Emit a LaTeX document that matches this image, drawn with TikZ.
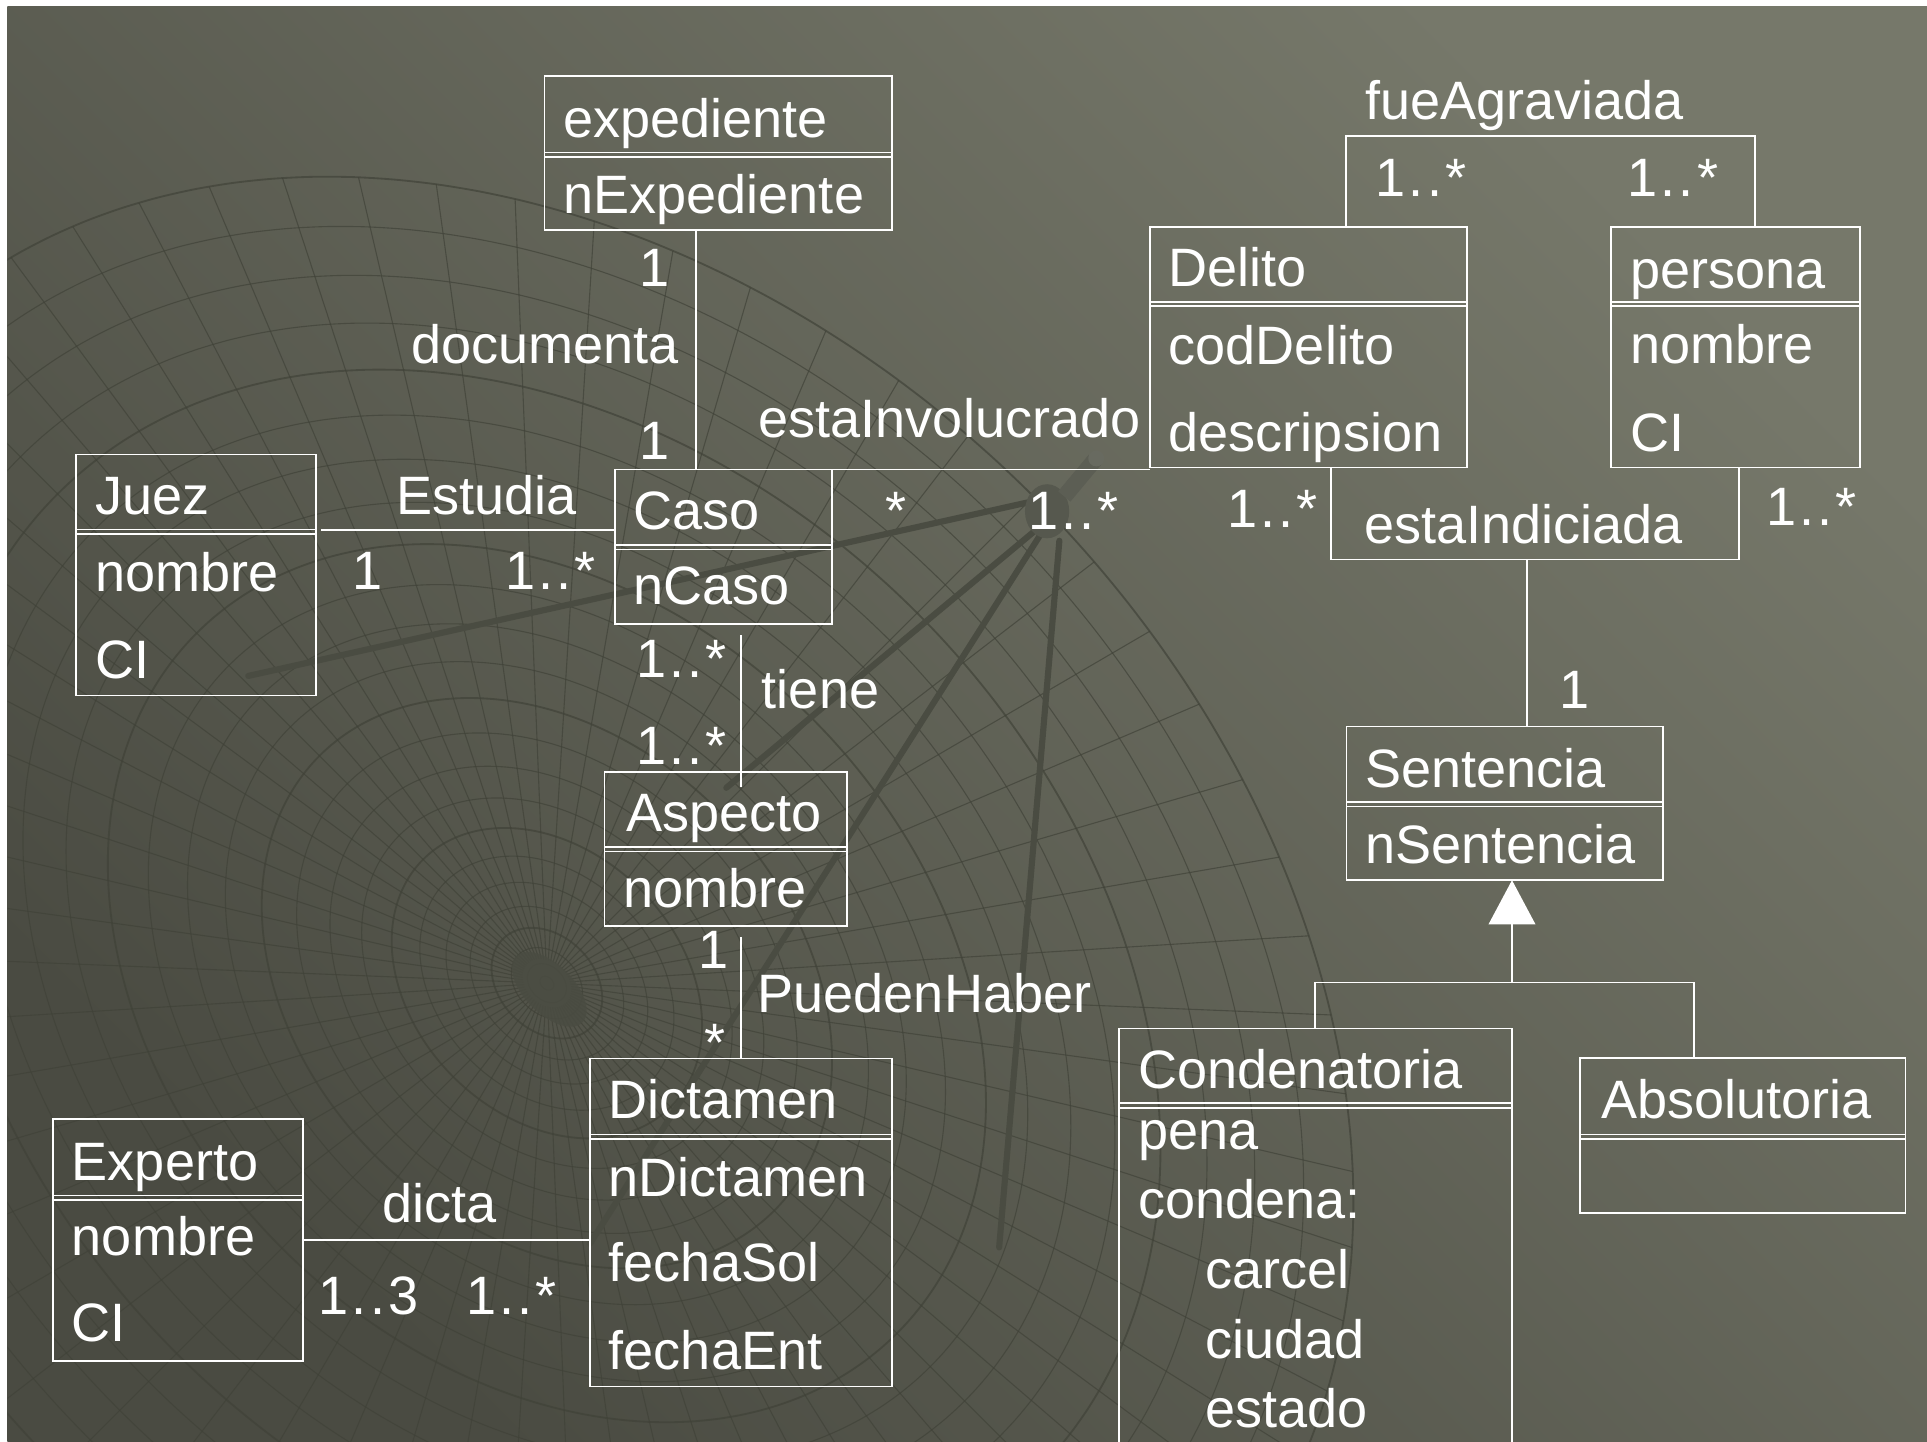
\documentclass[tikz,border=0pt]{standalone}
\usepackage{fontspec}
\setmainfont{Liberation Sans}
\usetikzlibrary{arrows.meta,calc}

\definecolor{bgLight}{RGB}{118,120,106}
\definecolor{bgMid}{RGB}{99,101,89}
\definecolor{bgDark}{RGB}{74,75,66}
\definecolor{meshcol}{RGB}{64,66,56}
\definecolor{legcol}{RGB}{74,76,66}
\definecolor{capcol}{RGB}{86,88,78}
\definecolor{tubecol}{RGB}{92,94,84}
\definecolor{tubetop}{RGB}{104,106,96}

\tikzset{
  uml/.style={draw=white, line width=1.3pt},
  clsbox/.style={uml, rectangle, inner sep=0pt, outer sep=0pt, anchor=north west},
  txt/.style={text=white, inner sep=0pt, outer sep=0pt, anchor=base west, yshift=-2.5pt,
              font=\fontsize{44pt}{52pt}\selectfont},
  mesh/.style={draw=meshcol, opacity=0.68, line width=0.9pt},
  leg/.style={draw=legcol, line width=5pt, line cap=round},
}

% multiplicity text with the wide dot spacing of the labels
\newcommand{\mlt}[1]{1\kern2.5pt.\kern2.5pt.\kern2.5pt#1}

% class box: name, left, top, right, bottom, y of the header divider
\newcommand{\umlbox}[6]{%
  \node[clsbox, minimum width={(#4)-(#2)}, minimum height={(#5)-(#3)}] (#1) at (#2,#3) {};
  \draw[uml] (#2,#6) -- (#4,#6);
  \draw[uml] (#2,{#6+3.7}) -- (#4,{#6+3.7});
}

\begin{document}
\begin{tikzpicture}[x=1pt,y=-1pt]
\useasboundingbox (0,0) rectangle (1568,1173);
\fill[white] (0,0) rectangle (1568,1173);
\shade[top color=bgLight, middle color=bgMid, bottom color=bgDark, shading angle=-45]
  (6,5) rectangle (1568,1173);

% ---- background globe mesh and tripod ----
\begin{scope}
\clip (6,5) rectangle (1568,1173);
\foreach \k in {1,...,24}{
  \pgfmathsetmacro\rr{(\k/24)^1.5}
  \pgfmathsetmacro\mw{(mod(\k,4)==0) ? 1.5 : 0.9}
  \draw[mesh, line width=\mw pt] plot[smooth cycle, variable=\a, domain=0:357, samples=120]
    ({445+\rr*(523.3*cos(\a)+396*sin(\a))},{800+\rr*(523.3*cos(\a)-396*sin(\a))});
}
\foreach \a in {0,5.625,...,354.375}{
  \draw[mesh] ({445+0.03*(523.3*cos(\a)+396*sin(\a))},{800+0.03*(523.3*cos(\a)-396*sin(\a))})
    -- ({445+523.3*cos(\a)+396*sin(\a)},{800+523.3*cos(\a)-396*sin(\a)});
}
\fill[legcol, opacity=0.85] plot[smooth cycle, variable=\a, domain=0:350, samples=36]
  ({447+26.9*cos(\a)+14.1*sin(\a)},{805+26.9*cos(\a)-14.1*sin(\a)});

\draw[leg] (840,408) -- (202,550);
\draw[leg] (842,432) -- (591,641);
\draw[leg] (846,436) -- (480,1012);
\draw[leg] (862,440) -- (813,1015);
\fill[capcol] (852,416) ellipse [x radius=18, y radius=22];
\draw[tubecol, line width=13pt] (866,404) -- (891,374);
\fill[tubetop] (892,373) circle (6.5);
\end{scope}

% ---- classes ----
\umlbox{exp}{443}{62}{726}{187}{124}
\umlbox{delito}{935.5}{184.5}{1193.5}{380.5}{245.5}
\umlbox{persona}{1311}{184.5}{1513.5}{380.5}{245.5}
\umlbox{juez}{62}{369.7}{257}{566}{430.7}
\umlbox{caso}{500.2}{381.9}{677}{507.7}{443.5}
\umlbox{asp}{491.8}{628}{689}{753.5}{689}
\umlbox{sent}{1095.5}{591}{1353.4}{716.2}{652.5}
\umlbox{cond}{910.5}{837}{1230.3}{1195}{897.7}
\umlbox{abs}{1285.6}{861}{1550.4}{987}{923.2}
\umlbox{dic}{479.9}{861.2}{725.7}{1128.3}{923}
\umlbox{expt}{43}{910.7}{246.6}{1107.4}{972.6}

\node[txt] (expN) at (458.5,109) {expediente};
\node[txt] (expA) at (458.5,171) {nExpediente};
\node[txt] (delN) at (951,231) {Delito};
\node[txt] (delA) at (951,294.3) {codDelito};
\node[txt] (delB) at (951,364.7) {descripsion};
\node[txt] (perN) at (1326.5,232) {persona};
\node[txt] (perA) at (1326.5,293) {nombre};
\node[txt] (perB) at (1326.5,364.5) {CI};
\node[txt] (juezN) at (77.5,416.4) {Juez};
\node[txt] (juezA) at (77.5,478.7) {nombre};
\node[txt] (juezB) at (77.5,549.3) {CI};
\node[txt] (casoN) at (515.7,428.5) {Caso};
\node[txt] (casoA) at (515.7,489.6) {nCaso};
\node[txt] (aspN) at (509.5,673.9) {Aspecto};
\node[txt] (aspA) at (507.3,735.8) {nombre};
\node[txt] (sentN) at (1111,638) {Sentencia};
\node[txt] (sentA) at (1111,700) {nSentencia};
\node[txt] (condN) at (926,883.3) {Condenatoria};
\node[txt] (condA) at (926,933) {pena};
\node[txt] (condB) at (926,989.2) {condena:};
\node[txt] (condC) at (981,1046) {carcel};
\node[txt] (condD) at (981,1102.6) {ciudad};
\node[txt] (condE) at (981,1159.4) {estado};
\node[txt] (absN) at (1303,907.8) {Absolutoria};
\node[txt] (dicN) at (495.4,908) {Dictamen};
\node[txt] (dicA) at (495.4,971) {nDictamen};
\node[txt] (dicB) at (495.4,1040) {fechaSol};
\node[txt] (dicC) at (495.4,1111.6) {fechaEnt};
\node[txt] (exptN) at (58.5,958.2) {Experto};
\node[txt] (exptA) at (58.5,1019) {nombre};
\node[txt] (exptB) at (58.5,1089) {CI};

% ---- associations ----
\coordinate (docX) at (566.3,0);
\draw[uml] (exp.south -| docX) -- (caso.north -| docX);

\coordinate (estY) at (0,431.3);
\draw[uml] ($(juez.east |- estY)+(4.5,0)$) -- (caso.west |- estY);

\draw[uml] (caso.north east) -- (caso.north east -| delito.west);

\coordinate (faL) at (1095,110.6);
\coordinate (faR) at (1428,110.6);
\draw[uml] (delito.north -| faL) -- (faL) -- (faR) -- (persona.north -| faR);

\coordinate (eiL) at (1083,455.3);
\coordinate (eiR) at (1415,455.3);
\coordinate (eiM) at (1242.6,455.3);
\draw[uml] (delito.south -| eiL) -- (eiL) -- (eiR) -- (persona.south -| eiR);
\draw[uml] (eiM) -- (sent.north -| eiM);

\coordinate (tieTop) at (603,516.7);
\draw[uml] (tieTop) -- ($(asp.north -| tieTop)+(0,12)$);

\coordinate (pueTop) at (603,762.4);
\draw[uml] (pueTop) -- (dic.north -| pueTop);

\coordinate (dicY) at (0,1009);
\draw[uml] (expt.east |- dicY) -- (dic.west |- dicY);

% ---- generalization ----
\coordinate (genL) at (1070.2,799.6);
\coordinate (genR) at (1378.3,799.6);
\coordinate (genM) at (1230.3,799.6);
\draw[uml] (cond.north -| genL) -- (genL) -- (genR) -- (abs.north -| genR);
\draw[uml, -{Triangle[length=36pt,width=38pt,fill=white]}] (genM) -- (sent.south -| genM);

% ---- association names and multiplicities ----
\node[txt] (lDocTop) at (520,231) {1};
\node[txt] (lDoc) at (334.5,293) {documenta};
\node[txt] (lDocBot) at (520,371.6) {1};
\node[txt] (lEst) at (322.5,416.4) {Estudia};
\node[txt] (lEstJ) at (287,477.4) {1};
\node[txt] (lEstC) at (411,477.4) {\mlt{*}};
\node[txt] (lInv) at (617.3,353.4) {estaInvolucrado};
\node[txt] (lInvC) at (720.7,428.5) {*};
\node[txt] (lInvD) at (836.5,428.5) {\mlt{*}};
\node[txt] (lIndD) at (998.5,427) {\mlt{*}};
\node[txt] (lFue) at (1111,95) {fueAgraviada};
\node[txt] (lFueD) at (1119.5,157) {\mlt{*}};
\node[txt] (lFueP) at (1324.5,157) {\mlt{*}};
\node[txt] (lInd) at (1110,439.7) {estaIndiciada};
\node[txt] (lIndP) at (1437,425) {\mlt{*}};
\node[txt] (lIndS) at (1269,574) {1};
\node[txt] (lTieC) at (518,549) {\mlt{*}};
\node[txt] (lTie) at (620,573.7) {tiene};
\node[txt] (lTieA) at (518,619.8) {\mlt{*}};
\node[txt] (lPueA) at (568.3,785.7) {1};
\node[txt] (lPue) at (616.5,821) {PuedenHaber};
\node[txt] (lPueD) at (573,861) {*};
\node[txt] (lDic) at (311.5,992) {dicta};
\node[txt] (lDicE) at (259.4,1067.3) {\mlt{3}};
\node[txt] (lDicD) at (379.4,1067.4) {\mlt{*}};
\end{tikzpicture}
\end{document}
